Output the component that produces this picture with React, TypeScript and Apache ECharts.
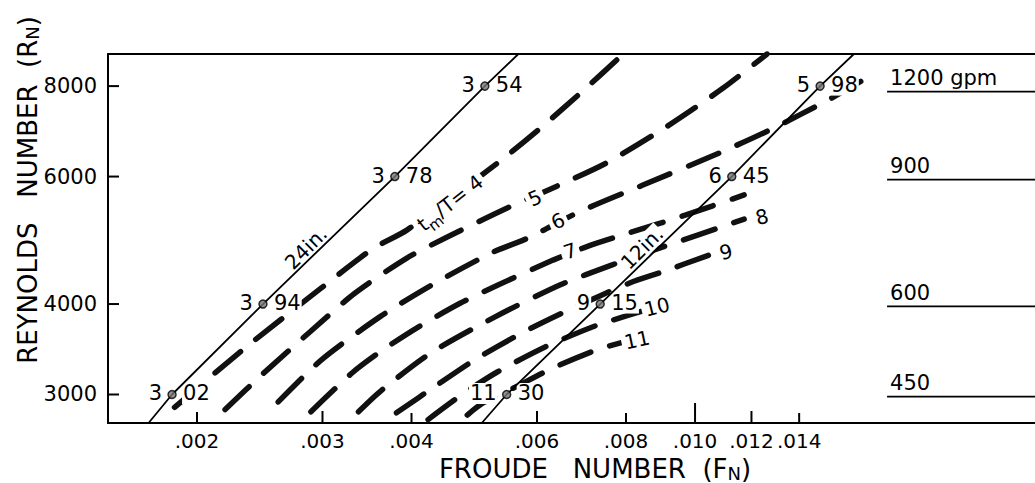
import React, { useEffect, useRef } from "react";
import * as echarts from "echarts";

const FONT = "'DejaVu Sans', sans-serif";

// ---- axes ----
const X_MIN = 0.0015;
const X_MAX = 0.03;
const Y_MIN = 2740;
const Y_MAX = 8860;
const xTicks = [0.002, 0.003, 0.004, 0.006, 0.008, 0.01, 0.012, 0.014];
const xTickLabels = [".002", ".003", ".004", ".006", ".008", ".010", ".012", ".014"];
const yTicks = [3000, 4000, 6000, 8000];
const yTickLabels = ["3000", "4000", "6000", "8000"];

// ---- pipe lines (solid) ----
const pipe24Fn = [0.00171, 0.001845, 0.002475, 0.00379, 0.00507, 0.00565];
const pipe24Re = [2740, 3000, 4000, 6000, 8000, 8860];
const pipe12Fn = [0.00502, 0.00544, 0.00736, 0.01126, 0.01498, 0.01671];
const pipe12Re = [2740, 3000, 4000, 6000, 8000, 8860];
const pipeNames = ["24in.", "12in."];
const pipeLabelFn = [0.002844, 0.008425];
const pipeLabelRe = [4780, 4780];

// ---- marked points ----
const mark24Fn = [0.001845, 0.002475, 0.00379, 0.00507];
const mark24Re = [3000, 4000, 6000, 8000];
const mark24Int = ["3", "3", "3", "3"];
const mark24Dec = ["02", "94", "78", "54"];
const mark12Fn = [0.00544, 0.00736, 0.01126, 0.01498];
const mark12Re = [3000, 4000, 6000, 8000];
const mark12Int = ["11", "9", "6", "5"];
const mark12Dec = ["30", "15", "45", "98"];

// ---- tm/T curves (dashed) ----
const c4Fn = [0.00186, 0.00232, 0.00298, 0.00353, 0.00394, 0.00529, 0.0061, 0.00701, 0.0079];
const c4Re = [2880, 3460, 4200, 4770, 5060, 6270, 7030, 7930, 8830];
const c5Fn = [0.00219, 0.00248, 0.00288, 0.00333, 0.00394, 0.00449, 0.00545, 0.0064, 0.00752, 0.00916, 0.01095, 0.01262];
const c5Re = [2860, 3210, 3660, 4140, 4630, 4950, 5430, 5820, 6270, 7050, 7950, 8860];
const c6Fn = [0.0026, 0.00299, 0.00361, 0.00427, 0.00521, 0.00583, 0.00687, 0.00845, 0.01067, 0.01274, 0.01547, 0.01801];
const c6Re = [2930, 3350, 3840, 4250, 4720, 4935, 5360, 5840, 6430, 6960, 7680, 8370];
const c7Fn = [0.00289, 0.00331, 0.00365, 0.00411, 0.00468, 0.00529, 0.00632, 0.00708, 0.00805, 0.00971, 0.01172];
const c7Re = [2840, 3220, 3460, 3730, 4010, 4250, 4600, 4810, 5010, 5310, 5660];
const c8Fn = [0.00337, 0.00363, 0.00427, 0.00524, 0.00646, 0.00765, 0.00887, 0.01172];
const c8Re = [2840, 3040, 3430, 3840, 4250, 4530, 4770, 5240];
const c9Fn = [0.00381, 0.00434, 0.00486, 0.00527, 0.00581, 0.00674, 0.00811, 0.00899, 0.0105];
const c9Re = [2830, 3090, 3330, 3490, 3680, 3950, 4280, 4430, 4680];
const c10Fn = [0.00422, 0.00471, 0.00527, 0.00616, 0.00729, 0.00843];
const c10Re = [2770, 3000, 3220, 3490, 3740, 3910];
const c11Fn = [0.00479, 0.00504, 0.00559, 0.0063, 0.00729, 0.00798];
const c11Re = [2810, 2920, 3070, 3260, 3460, 3550];

const curveLabelText = ["4", "5", "6", "7", "8", "9", "10", "11"];
const curveLabelFn = [0.00453, 0.005962, 0.006422, 0.006676, 0.012416, 0.011053, 0.008843, 0.00829];
const curveLabelRe = [5518, 5605, 5209, 4735, 5276, 4720, 3963, 3568];

// ---- flow rates ----
const gpmValues = [1200, 900, 600, 450];
const gpmRe = [7860, 5940, 3970, 2980];
const GPM_FN_START = 0.0186;

// styles (not data)
const xTickLen = [11, 12, 10, 12, 10, 20, 12, 10];
const curveLabelRot = [38, 24, 24, 18, 14, 14, 14, 12];

const zip = (a: number[], b: number[]) => a.map((v, i) => [v, b[i]]);

function txt(extra: any) {
  return { fontSize: 21, fontFamily: FONT, fill: "#000", ...extra };
}

function buildOption(): any {
  const curves = [
    [c4Fn, c4Re],
    [c5Fn, c5Re],
    [c6Fn, c6Re],
    [c7Fn, c7Re],
    [c8Fn, c8Re],
    [c9Fn, c9Re],
    [c10Fn, c10Re],
    [c11Fn, c11Re],
  ];
  const axisBase = {
    type: "log",
    logBase: 10,
    splitLine: { show: false },
    axisTick: { show: false },
    axisLabel: { show: false },
    minorTick: { show: false },
    axisLine: { show: true, onZero: false, lineStyle: { color: "#000", width: 2 } },
  };

  const series: any[] = [];

  curves.forEach(([fn, re], k) => {
    series.push({
      type: "line",
      name: "tm/T " + curveLabelText[k],
      data: zip(fn as number[], re as number[]),
      symbol: "none",
      smooth: 0.25,
      silent: true,
      z: 2,
      lineStyle: { color: "#111", width: 5.5, type: [33, 20], cap: "round" },
    });
  });

  [
    [pipe24Fn, pipe24Re],
    [pipe12Fn, pipe12Re],
  ].forEach(([fn, re], k) => {
    series.push({
      type: "line",
      name: pipeNames[k],
      data: zip(fn, re),
      symbol: "none",
      silent: true,
      z: 4,
      lineStyle: { color: "#000", width: 1.8 },
    });
  });

  // markers (dots)
  series.push({
    type: "scatter",
    data: zip(mark24Fn, mark24Re).concat(zip(mark12Fn, mark12Re)),
    symbol: "circle",
    symbolSize: 8,
    silent: true,
    z: 6,
    itemStyle: { color: "#777", borderColor: "#000", borderWidth: 1.5 },
  });

  // marker texts
  const markInt = mark24Int.concat(mark12Int);
  const markDec = mark24Dec.concat(mark12Dec);
  const markRe = mark24Re.concat(mark12Re);
  series.push({
    type: "custom",
    silent: true,
    z: 3,
    data: mark24Fn.concat(mark12Fn).map((f, i) => [f, markRe[i], i]),
    renderItem: (_p: any, api: any) => {
      const i = api.value(2);
      const p = api.coord([api.value(0), api.value(1)]);
      return {
        type: "group",
        children: [
          {
            type: "text",
            x: p[0] - 9,
            y: p[1] - 1,
            style: txt({ text: markInt[i], align: "right", verticalAlign: "middle", backgroundColor: "#fff", padding: [0, 1] }),
          },
          {
            type: "text",
            x: p[0] + 10,
            y: p[1] - 1,
            style: txt({ text: markDec[i], align: "left", verticalAlign: "middle", backgroundColor: "#fff", padding: [0, 1] }),
          },
        ],
      };
    },
  });

  // curve labels
  series.push({
    type: "custom",
    silent: true,
    z: 3,
    data: curveLabelText.map((_t, i) => [curveLabelFn[i], curveLabelRe[i], i]),
    renderItem: (_p: any, api: any) => {
      const i = api.value(2);
      const p = api.coord([api.value(0), api.value(1)]);
      const text = i === 0 ? "t{m|m}/T= " + curveLabelText[i] : curveLabelText[i];
      return {
        type: "text",
        x: p[0],
        y: p[1],
        rotation: (curveLabelRot[i] * Math.PI) / 180,
        style: txt({
          text,
          fontSize: 20,
          align: "center",
          verticalAlign: "middle",
          backgroundColor: "#fff",
          padding: [0, 3],
          rich: {
            m: { fontSize: 15, fontFamily: FONT, fill: "#000", verticalAlign: "bottom", lineHeight: 30 },
          },
        }),
      };
    },
  });

  // pipe labels
  series.push({
    type: "custom",
    silent: true,
    z: 3,
    data: pipeNames.map((_n, i) => [pipeLabelFn[i], pipeLabelRe[i], i]),
    renderItem: (_p: any, api: any) => {
      const i = api.value(2);
      const p = api.coord([api.value(0), api.value(1)]);
      return {
        type: "text",
        x: p[0],
        y: p[1],
        rotation: Math.PI / 4,
        style: txt({ text: pipeNames[i], fontSize: 20, align: "center", verticalAlign: "middle", backgroundColor: "#fff", padding: [0, 1] }),
      };
    },
  });

  // x axis ticks + labels
  series.push({
    type: "custom",
    silent: true,
    z: 7,
    data: xTicks.map((v, i) => [v, Y_MIN, i]),
    renderItem: (_p: any, api: any) => {
      const i = api.value(2);
      const p = api.coord([api.value(0), api.value(1)]);
      return {
        type: "group",
        children: [
          { type: "line", shape: { x1: p[0], y1: p[1], x2: p[0], y2: p[1] - xTickLen[i] }, style: { stroke: "#000", lineWidth: 2 } },
          { type: "text", x: p[0], y: p[1] + 8, style: txt({ text: xTickLabels[i], fontSize: 20, align: "center", verticalAlign: "top" }) },
        ],
      };
    },
  });

  // y axis ticks + labels
  series.push({
    type: "custom",
    silent: true,
    z: 7,
    data: yTicks.map((v, i) => [X_MIN, v, i]),
    renderItem: (_p: any, api: any) => {
      const i = api.value(2);
      const p = api.coord([api.value(0), api.value(1)]);
      return {
        type: "group",
        children: [
          { type: "line", shape: { x1: p[0], y1: p[1], x2: p[0] + 11, y2: p[1] }, style: { stroke: "#000", lineWidth: 2 } },
          { type: "text", x: p[0] - 11, y: p[1], style: txt({ text: yTickLabels[i], align: "right", verticalAlign: "middle" }) },
        ],
      };
    },
  });

  // flow-rate rules at right
  series.push({
    type: "custom",
    silent: true,
    z: 7,
    data: gpmValues.map((_g, i) => [GPM_FN_START, gpmRe[i], i]),
    renderItem: (_p: any, api: any) => {
      const i = api.value(2);
      const p = api.coord([api.value(0), api.value(1)]);
      const e = api.coord([X_MAX, api.value(1)]);
      const label = i === 0 ? gpmValues[i] + " gpm" : String(gpmValues[i]);
      return {
        type: "group",
        children: [
          { type: "line", shape: { x1: p[0], y1: p[1], x2: e[0], y2: e[1] }, style: { stroke: "#000", lineWidth: 1.8 } },
          { type: "text", x: p[0] + 3, y: p[1] - 3, style: txt({ text: label, align: "left", verticalAlign: "bottom" }) },
        ],
      };
    },
  });

  return {
    animation: false,
    backgroundColor: "#fff",
    grid: { left: 108, right: 0, top: 54, bottom: 60, containLabel: false, outerBoundsMode: "none" },
    xAxis: [
      { ...axisBase, min: X_MIN, max: X_MAX, position: "bottom" },
      { ...axisBase, min: X_MIN, max: X_MAX, position: "top" },
    ],
    yAxis: { ...axisBase, min: Y_MIN, max: Y_MAX, position: "left" },
    graphic: [
      {
        type: "text",
        x: 595,
        y: 469,
        style: {
          text: "FROUDE   NUMBER  (F{s|N})",
          fontSize: 26,
          fontFamily: FONT,
          fill: "#000",
          align: "center",
          verticalAlign: "middle",
          rich: { s: { fontSize: 18, fontFamily: FONT, fill: "#000", verticalAlign: "bottom" } },
        },
      },
      {
        type: "text",
        x: 28,
        y: 190,
        rotation: Math.PI / 2,
        style: {
          text: "REYNOLDS   NUMBER  (R{s|N})",
          fontSize: 26,
          fontFamily: FONT,
          fill: "#000",
          align: "center",
          verticalAlign: "middle",
          rich: { s: { fontSize: 18, fontFamily: FONT, fill: "#000", verticalAlign: "bottom" } },
        },
      },
    ],
    series,
  };
}

export default function App() {
  const ref = useRef<HTMLDivElement>(null);
  useEffect(() => {
    if (!ref.current) return;
    const chart = echarts.init(ref.current, null, { renderer: "svg" });
    chart.setOption(buildOption());
    return () => chart.dispose();
  }, []);
  return (
    <div
      ref={ref}
      style={{ position: "fixed", left: 0, top: 0, width: 1035, height: 483, background: "#fff" }}
    />
  );
}
